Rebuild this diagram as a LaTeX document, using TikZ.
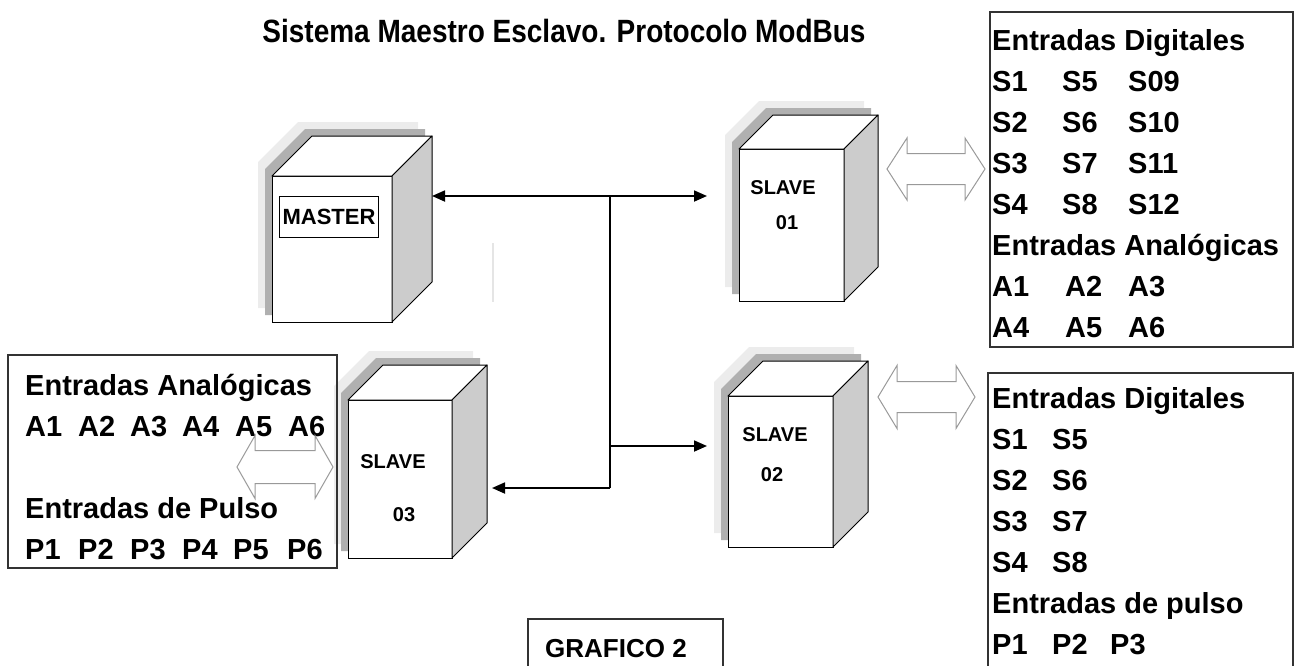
\documentclass[tikz,border=0pt]{standalone}
\usepackage{fontspec}
\usepackage{graphicx}
\setmainfont{Liberation Sans}
\usetikzlibrary{arrows.meta}

% cubo: nombre, x, y (esquina sup. izq. del frente), ancho, alto, fondo
\newcommand{\cubo}[6]{%
  \foreach \s/\c in {14/gray!15,7/gray!62}
    \fill[\c,shift={(-\s,-\s)}] (#2,#3+#5)--(#2,#3)--(#2+#6,#3-#6)--(#2+#4+#6,#3-#6)--(#2+#4+#6,#3+#5-#6)--(#2+#4,#3+#5)--cycle;
  \node[frente,minimum width=#4pt,minimum height=#5pt,anchor=north west] (#1) at (#2,#3) {};
  \draw[cara,fill=white] (#1.north west)--++(#6,-#6)--++(#4,0)--(#1.north east)--cycle;
  \draw[cara,fill=gray!40] (#1.north east)--++(#6,-#6)--++(0,#5)--(#1.south east)--cycle;
}
% flecha hueca doble: x izq, x der, y centro, largo punta, medio cuerpo, media punta
\newcommand{\flechadoble}[6]{%
  \draw[hueca] (#1,#3)--(#1+#4,#3-#6)--(#1+#4,#3-#5)--(#2-#4,#3-#5)--(#2-#4,#3-#6)--(#2,#3)--(#2-#4,#3+#6)--(#2-#4,#3+#5)--(#1+#4,#3+#5)--(#1+#4,#3+#6)--cycle;
}
\newcommand{\celda}[2]{\makebox[#1pt][l]{#2}}

\begin{document}
\begin{tikzpicture}[x=1pt,y=-1pt,
    frente/.style={draw,fill=white,line width=1pt,outer sep=0pt,inner sep=0pt},
    cara/.style={draw,line width=1pt,line join=round},
    caja/.style={draw=black!80,line width=1.3pt,outer sep=0pt,anchor=north west},
    texto/.style={font=\fontsize{29}{41}\selectfont\bfseries,align=left,inner sep=0pt,anchor=north west},
    rotulo/.style={font=\fontsize{20}{24}\selectfont\bfseries,inner sep=0pt},
    bus/.style={line width=1.8pt},
    punta/.style={-{Triangle[length=13pt,width=11pt]}},
    hueca/.style={draw=gray!80,line width=1pt,line join=miter}]
  \useasboundingbox (0,0) rectangle (1298,665);

  \node[font=\fontsize{28}{32}\selectfont\bfseries,anchor=base,inner sep=0pt] (titulo) at (564,42) {\scalebox{1}[1.15]{Sistema Maestro Esclavo. Protocolo ModBus}};

  % equipos
  \cubo{master}{272}{176}{120}{146}{40}
  \cubo{slaveA}{739}{149}{105}{152}{34}
  \cubo{slaveB}{728}{396}{105}{151}{35}
  \cubo{slaveC}{348}{400}{104}{158}{35}

  \node[draw,line width=1pt,minimum width=99pt,minimum height=41pt,font=\fontsize{22}{24}\selectfont\bfseries] (etiq) at (329,217) {MASTER};
  \node[rotulo] (s1a) at (783,188) {SLAVE};
  \node[rotulo] (s1b) at (787,223) {01};
  \node[rotulo] (s2a) at (775,435) {SLAVE};
  \node[rotulo] (s2b) at (772,475) {02};
  \node[rotulo] (s3a) at (393,462) {SLAVE};
  \node[rotulo] (s3b) at (404,515) {03};

  % bus
  \coordinate (pm) at (432,196);
  \coordinate (p1) at (707,196);
  \coordinate (j1) at (610,196);
  \coordinate (j2) at (610,488);
  \coordinate (j3) at (610,446);
  \coordinate (p2) at (707,446);
  \coordinate (p3) at (492,488);
  \draw[bus,punta] (j1) -- (pm);
  \draw[bus,punta] (j1) -- (p1);
  \draw[bus] (j1) -- (j2);
  \draw[bus,punta] (j3) -- (p2);
  \draw[bus,punta] (j2) -- (p3);
  \draw[gray!20,line width=1.5pt] (493,243) -- (493,302);

  % cajas de entradas
  \node[caja,minimum width=303pt,minimum height=335pt] (cajaA) at (990,12) {};
  \node[texto] (txtA) at (992,29) {Entradas Digitales\\
    \celda{70}{S1}\celda{66}{S5}S09\\
    \celda{70}{S2}\celda{66}{S6}S10\\
    \celda{70}{S3}\celda{66}{S7}S11\\
    \celda{70}{S4}\celda{66}{S8}S12\\
    Entradas Analógicas\\
    \celda{73}{A1}\celda{63}{A2}A3\\
    \celda{73}{A4}\celda{63}{A5}A6};

  \node[caja,minimum width=305pt,minimum height=330pt] (cajaB) at (988,373) {};
  \node[texto] (txtB) at (992,387) {Entradas Digitales\\
    \celda{60}{S1}S5\\
    \celda{60}{S2}S6\\
    \celda{60}{S3}S7\\
    \celda{60}{S4}S8\\
    Entradas de pulso\\
    \celda{60}{P1}\celda{58}{P2}P3};

  \node[caja,minimum width=329pt,minimum height=213pt] (cajaC) at (8,355) {};
  \node[texto] (txtC) at (25,374) {Entradas Analógicas\\
    \celda{53}{A1}\celda{52}{A2}\celda{52}{A3}\celda{53}{A4}\celda{53}{A5}A6\\[41pt]
    Entradas de Pulso\\
    \celda{53}{P1}\celda{52}{P2}\celda{52}{P3}\celda{51}{P4}\celda{54}{P5}P6};

  % flechas huecas
  \flechadoble{887}{985}{169}{20}{15.5}{31}
  \flechadoble{878}{975}{397}{19}{15.5}{31.5}
  \flechadoble{237}{333}{467}{18}{16.5}{31.5}

  \node[caja,minimum width=195pt,minimum height=60pt] (cajaG) at (528,619) {};
  \node[font=\fontsize{26}{30}\selectfont\bfseries,anchor=base west,inner sep=0pt] (graf) at (545,657) {GRAFICO 2};
\end{tikzpicture}
\end{document}
